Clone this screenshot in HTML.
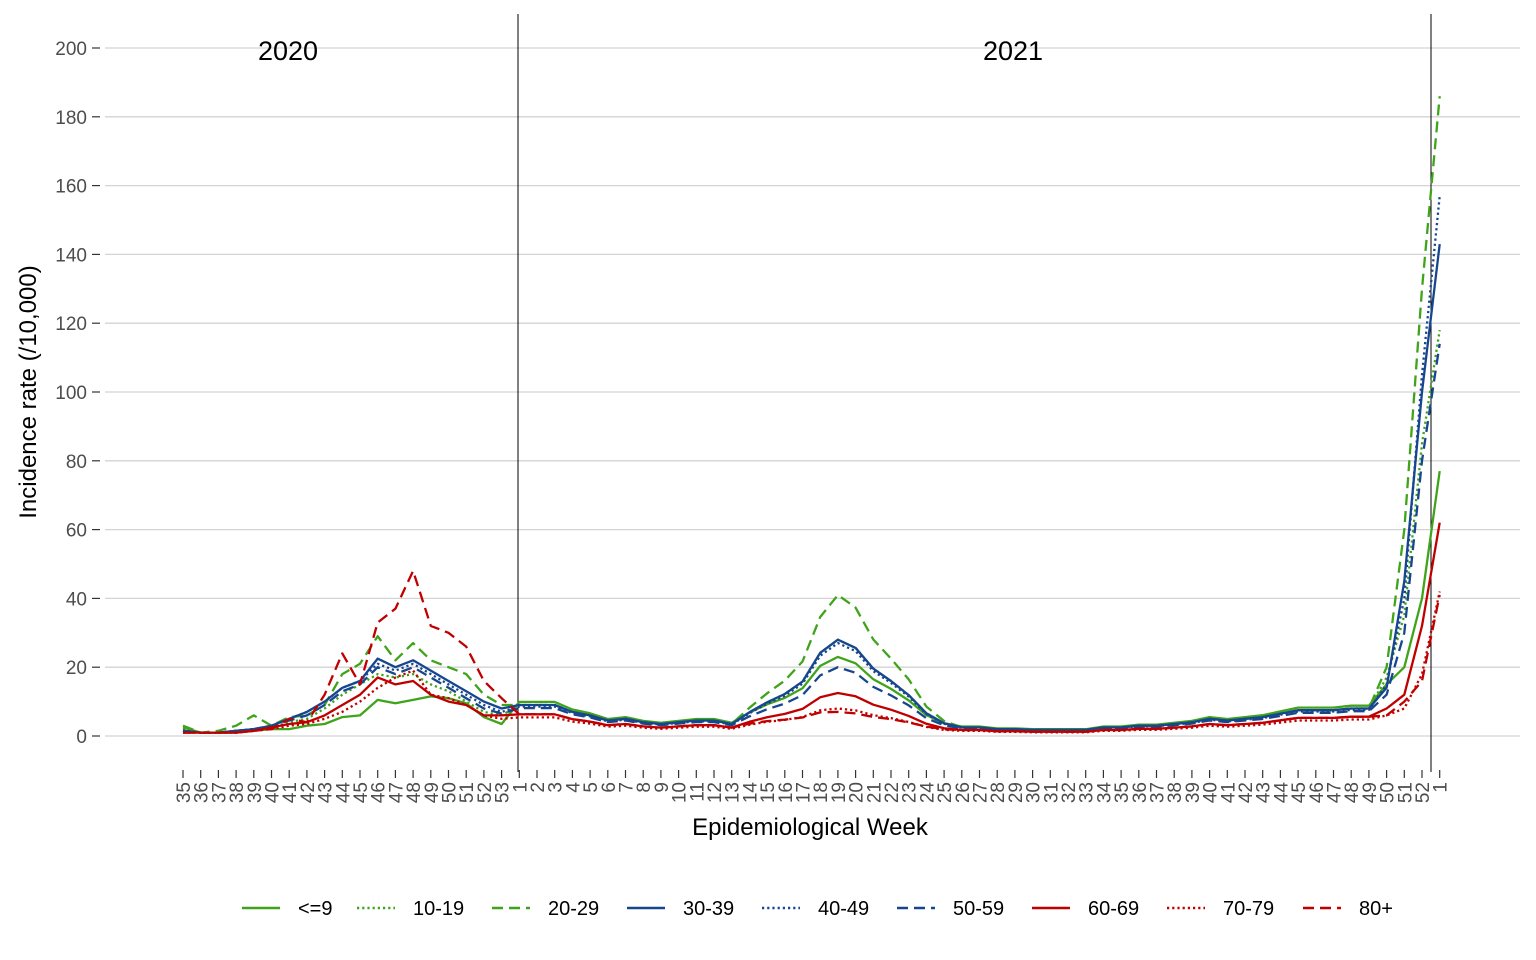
<!DOCTYPE html>
<html><head><meta charset="utf-8"><style>
body{margin:0;background:#fff;}
svg{display:block;font-family:"Liberation Sans",sans-serif;}
</style></head><body>
<svg id="c" width="1536" height="960" xmlns="http://www.w3.org/2000/svg"></svg>
<script>
const s=document.getElementById('c');let h='';
const X=i=>183+i*17.7, Y=v=>736-v*3.44;
for(let v=0;v<=200;v+=20){h+=`<line x1="105" x2="1520" y1="${Y(v)}" y2="${Y(v)}" stroke="#d3d3d3" stroke-width="1.3"/>`;
h+=`<line x1="92" x2="100" y1="${Y(v)}" y2="${Y(v)}" stroke="#333" stroke-width="1.2"/>`;
h+=`<text x="87" y="${Y(v)+7}" text-anchor="end" font-size="19" fill="#4d4d4d">${v}</text>`;}
const labs=[];for(let w=35;w<=53;w++)labs.push(w);for(let w=1;w<=52;w++)labs.push(w);labs.push(1);
labs.forEach((l,i)=>{const x=X(i);h+=`<line x1="${x}" x2="${x}" y1="770" y2="778" stroke="#333" stroke-width="1.2"/>`;
h+=`<text transform="translate(${x+7},782) rotate(-90)" text-anchor="end" font-size="19" fill="#4d4d4d">${l}</text>`;});
h+=`<line x1="518" x2="518" y1="14" y2="772" stroke="#000" stroke-width="1"/><line x1="1431" x2="1431" y1="14" y2="772" stroke="#000" stroke-width="1"/>`;
h+=`<text x="288" y="60" text-anchor="middle" font-size="27">2020</text><text x="1013" y="60" text-anchor="middle" font-size="27">2021</text>`;
h+=`<text x="810" y="835" text-anchor="middle" font-size="24">Epidemiological Week</text>`;
h+=`<text transform="translate(36,392) rotate(-90)" text-anchor="middle" font-size="24">Incidence rate (/10,000)</text>`;
const G='#3fa41a',B='#17468f',R='#c00000',SOL='',DOT='2.2,3',DAS='11,6';
const w20={
'<=9':[2.5,1,1,1,1.5,2,2,3,3.5,5.5,6,10.5,9.5,10.5,11.5,11,9.5,5.5,3.5],
'10-19':[2,1,1,1.5,2,2.5,4,5,8,12,15,18,17,18,15,13,10,7,6],
'20-29':[3,1,1.5,3,6,3,5.5,6,9,18,21,29,22,27,22,20,18,12,9],
'30-39':[1.5,1,1,1.5,2,3,5,7,10,14,16,22.5,20,22,19,16,13,10,8],
'40-49':[1.5,1,1,1.5,2,3,5,7,10,14,16,21,19,21,18,15,12,9,7],
'50-59':[1.5,1,1,1.5,2,3,4.5,6,9,13,15,20,18,20,17,14,11,8,6.5],
'60-69':[1,1,1,1,1.5,2.5,3.5,4,6,9,12,17,15,16,12,10,9,6,6],
'70-79':[1,1,1,1,1.5,2,3,3.5,5,7,10,14,17,19,12,11,9,6,5],
'80+':[1,1,1,1,1.5,2,5,4,12,24,15,33,37,48,32,30,26,16,11]};
const low=[9,9,9,7,6,4.5,5,4,3.5,4,4.5,4.5,3.5,4.5,5,5,5,5,4,4,4,4,3.5,3,2.5,2.5,2.5,2,2,1.8,1.8,1.8,1.8,2.5,2.5,3,3,3.5,4,5,4.5,5,5.5,6.5,7.5,7.5,7.5,8,8];
const shp={13:.1,14:.2,15:.3,16:.45,17:.8,18:1,19:.9,20:.65,21:.5,22:.35,23:.15,24:.05};
const ser=[['<=9',G,SOL,1.1,23,[15,20,40,77]],['10-19',G,DOT,1,28,[17,35,85,118]],['20-29',G,DAS,1,41,[20,60,130,186]],
['30-39',B,SOL,1,28,[14,45,100,143]],['40-49',B,DOT,.95,27,[15,40,105,157]],['50-59',B,DAS,.9,20,[12,30,80,114]],
['60-69',R,SOL,.7,12.5,[8,12,32,62]],['70-79',R,DOT,.6,8,[6,8,18,42]],['80+',R,DAS,.7,7,[6,10,16,41]]];
ser.forEach(([n,c,d,ls,pk,e])=>{const v=w20[n].slice();
for(let i=0;i<49;i++){let b=low[i]*ls;if(shp[i]!==undefined)b+= (pk-4*ls)*shp[i];v.push(b);}
v.push(...e);
const pts=v.map((y,i)=>X(i).toFixed(1)+','+Y(y).toFixed(1)).join(' ');
h+=`<polyline points="${pts}" fill="none" stroke="${c}" stroke-width="2.3" ${d?`stroke-dasharray="${d}"`:''} stroke-linejoin="round"/>`;});
const lx=[298,413,548,683,818,953,1088,1223,1359];
ser.forEach(([n,c,d],k)=>{const x=lx[k];h+=`<line x1="${x-56}" x2="${x-18}" y1="908" y2="908" stroke="${c}" stroke-width="2.5" ${d?`stroke-dasharray="${d}"`:''}/>`;
h+=`<text x="${x}" y="915" font-size="20">${n.replace('<','&lt;')}</text>`;});
s.innerHTML=h;
</script>
</body></html>
